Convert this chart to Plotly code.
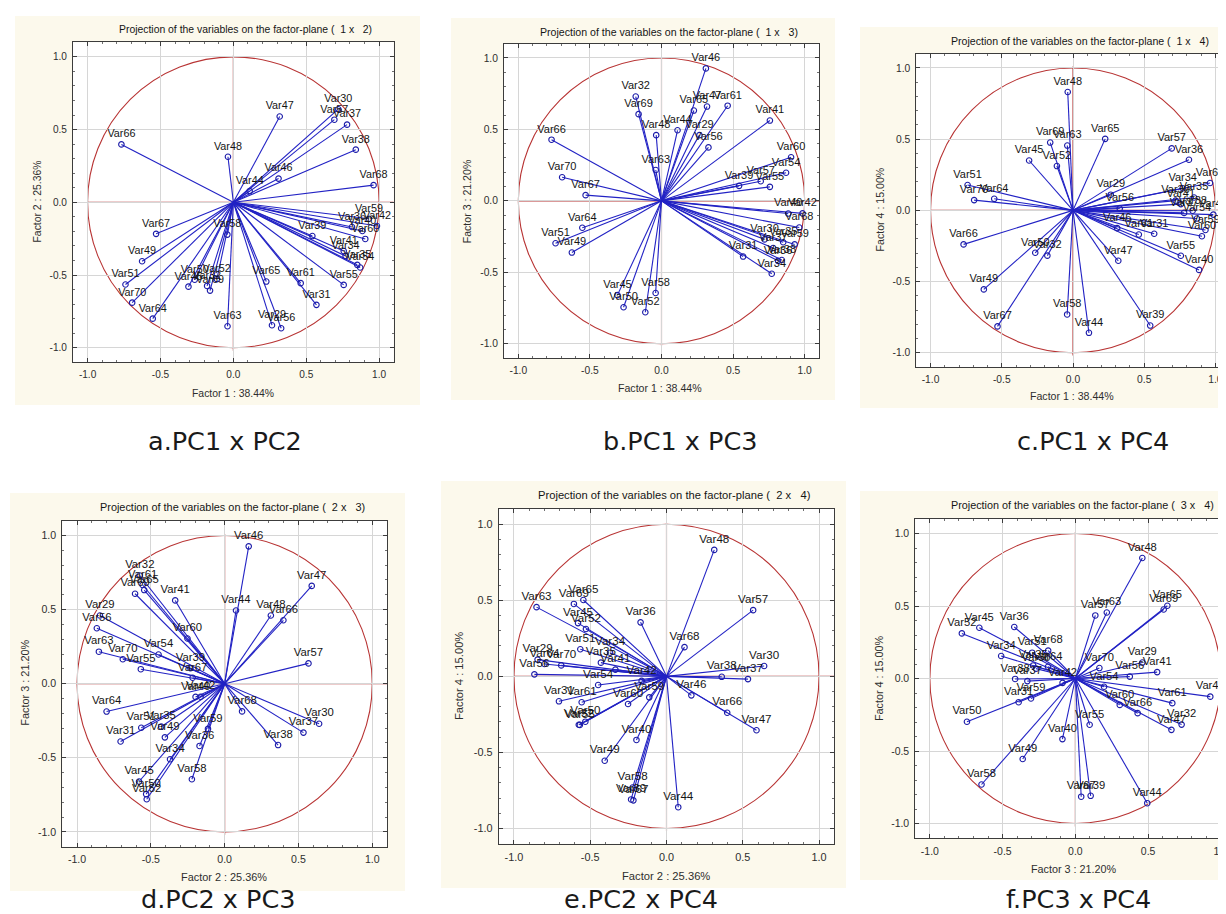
import plotly.graph_objects as go

# ---------------- data (factor loadings) ----------------
variables = ["Var29", "Var30", "Var31", "Var32", "Var34", "Var35", "Var36", "Var37",
             "Var38", "Var39", "Var40", "Var41", "Var42", "Var44", "Var45", "Var46",
             "Var47", "Var48", "Var49", "Var50", "Var51", "Var52", "Var54", "Var55",
             "Var56", "Var57", "Var58", "Var59", "Var60", "Var61", "Var63", "Var64",
             "Var65", "Var66", "Var67", "Var68", "Var69", "Var70"]

factor1 = [0.265, 0.720, 0.570, -0.180, 0.770, 0.850, 0.814, 0.780,
           0.840, 0.542, 0.885, 0.757, 0.985, 0.112, -0.308, 0.310,
           0.318, -0.037, -0.626, -0.265, -0.740, -0.113, 0.870, 0.757,
           0.328, 0.693, -0.041, 0.930, 0.905, 0.462, -0.040, -0.553,
           0.226, -0.768, -0.530, 0.962, -0.160, -0.694]

factor2 = [-0.845, 0.640, -0.705, -0.575, -0.370, -0.430, -0.170, 0.534,
           0.362, -0.232, -0.197, -0.335, -0.163, 0.077, -0.580, 0.163,
           0.590, 0.313, -0.405, -0.532, -0.565, -0.528, -0.448, -0.568,
           -0.866, 0.568, -0.222, -0.113, -0.252, -0.556, -0.852, -0.800,
           -0.545, 0.398, -0.217, 0.118, -0.607, -0.690]

factor3 = [0.460, -0.270, -0.390, 0.730, -0.510, -0.290, -0.420, -0.330,
           -0.414, 0.105, -0.089, 0.562, -0.088, 0.494, -0.660, 0.927,
           0.660, 0.460, -0.362, -0.745, -0.297, -0.780, 0.197, 0.098,
           0.374, 0.137, -0.645, -0.305, 0.305, 0.666, 0.216, -0.188,
           0.632, 0.428, 0.040, -0.187, 0.607, 0.165]

factor4 = [0.110, 0.068, -0.164, -0.318, 0.155, 0.090, 0.355, -0.018,
           -0.003, -0.809, -0.418, 0.044, -0.030, -0.860, 0.350, -0.125,
           -0.354, 0.831, -0.555, -0.298, 0.178, 0.311, -0.057, -0.319,
           0.013, 0.435, -0.731, -0.138, -0.182, -0.170, 0.455, 0.081,
           0.502, -0.239, -0.815, 0.192, 0.476, 0.072]

explained = [38.44, 25.36, 21.20, 15.00]          # % variance of factors 1..4
pairs = [(1, 2), (1, 3), (1, 4), (2, 3), (2, 4), (3, 4)]
captions = ["a.PC1 x PC2", "b.PC1 x PC3", "c.PC1 x PC4",
            "d.PC2 x PC3", "e.PC2 x PC4", "f.PC3 x PC4"]
tick_values = [-1.0, -0.5, 0.0, 0.5, 1.0]
tick_text = ["-1.0", "-0.5", "0.0", "0.5", "1.0"]

loadings = {1: factor1, 2: factor2, 3: factor3, 4: factor4}

# ---------------- styling / geometry (pixels) ----------------
W, H = 1226, 914
CREAM = "#FCF9EC"
BLUE_LINE = "#2222C4"
BLUE_MARK = "#1C1CA8"
RED = "#B83434"
FRAME = "#3C3C3C"
GRID = "#D6D6D6"
TXT = "#151515"
SANS = "Arial, 'Liberation Sans', sans-serif"
CAPFONT = "Verdana, 'DejaVu Sans', sans-serif"

panels = [
    dict(frame=(65, 34.3, 385.7, 354.3), bg=(7, 8, 412, 397), title=(237, 22),
         xt=(224.5, 385), yt=(28.5, 194), cap=(217, 433), fs=10.4, xmax=1.1),
    dict(frame=(496, 35.7, 811, 350), bg=(443, 10, 827, 392), title=(660.5, 24),
         xt=(652.3, 380), yt=(459.3, 193), cap=(672, 433), fs=10.6, xmax=1.1),
    dict(frame=(908.3, 45.7, 1221.7, 359), bg=(852, 19, 1226, 400), title=(1072, 32.7),
         xt=(1063.8, 388.3), yt=(871.7, 201.7), cap=(1085, 433), fs=10.6, xmax=1.1),
    dict(frame=(54.3, 512.7, 379, 838.7), bg=(2, 485, 397, 883), title=(224, 499),
         xt=(215.8, 869), yt=(16.7, 675), cap=(210, 891), fs=10.9, xmax=1.1),
    dict(frame=(490.7, 501, 826.3, 835.7), bg=(433, 473, 838, 880), title=(666, 486.7),
         xt=(657.5, 867.7), yt=(451.7, 668.3), cap=(633, 891), fs=11.2, xmax=1.1),
    dict(frame=(907.3, 511, 1226, 830), bg=(852, 483, 1226, 872), title=(1074.5, 497.3),
         xt=(1066, 860.7), yt=(871, 670), cap=(1070, 891), fs=10.8, xmax=1.09),
]


def px(x):
    return x / W


def py(y):
    return 1 - y / H


fig = go.Figure()
shapes, annotations = [], []
layout_axes = {}

for k, ((fa, fb), P) in enumerate(zip(pairs, panels), start=1):
    xa = "x" if k == 1 else f"x{k}"
    ya = "y" if k == 1 else f"y{k}"
    xs, ys = loadings[fa], loadings[fb]
    fs = P["fs"]

    # background boxes
    bx0, by0, bx1, by1 = P["bg"]
    shapes.append(dict(type="rect", xref="paper", yref="paper", layer="below",
                       x0=px(bx0), x1=px(bx1), y0=py(by1), y1=py(by0),
                       fillcolor=CREAM, line=dict(width=0)))
    fx0, fy0, fx1, fy1 = P["frame"]
    shapes.append(dict(type="rect", xref="paper", yref="paper", layer="below",
                       x0=px(fx0), x1=px(fx1), y0=py(fy1), y1=py(fy0),
                       fillcolor="white", line=dict(width=0)))
    # unit circle and axes cross
    shapes.append(dict(type="circle", xref=xa, yref=ya, layer="below",
                       x0=-1, x1=1, y0=-1, y1=1, line=dict(color=RED, width=1.1)))
    shapes.append(dict(type="line", xref=xa, yref=ya, layer="below",
                       x0=-1.0, x1=P["xmax"], y0=0, y1=0, line=dict(color=RED, width=1.1)))
    shapes.append(dict(type="line", xref=xa, yref=ya, layer="below",
                       x0=0, x1=0, y0=-1.02, y1=1.01, line=dict(color=RED, width=1.1)))

    # vectors from origin
    seg_x, seg_y = [], []
    for a, b in zip(xs, ys):
        seg_x += [0, a, None]
        seg_y += [0, b, None]
    fig.add_trace(go.Scatter(x=seg_x, y=seg_y, mode="lines", xaxis=xa, yaxis=ya,
                             line=dict(color=BLUE_LINE, width=1.1), hoverinfo="skip",
                             showlegend=False))
    fig.add_trace(go.Scatter(x=xs, y=ys, mode="markers+text", xaxis=xa, yaxis=ya,
                             text=variables, textposition="top center",
                             textfont=dict(family=SANS, size=fs + 0.4, color=TXT),
                             marker=dict(symbol="circle-open", size=5.5, color=BLUE_MARK,
                                         line=dict(width=1.1, color=BLUE_MARK)),
                             cliponaxis=False, showlegend=False))

    common = dict(tickmode="array", tickvals=tick_values, ticktext=tick_text,
                  showgrid=True, gridcolor=GRID, gridwidth=1, zeroline=False,
                  showline=True, linecolor=FRAME, linewidth=1, mirror="allticks",
                  ticks="inside", ticklen=4, tickcolor=FRAME,
                  tickfont=dict(family=SANS, size=fs * 0.97, color="#2E2E2E"),
                  minor=dict(tickmode="linear", tick0=0, dtick=0.1, ticks="inside",
                             ticklen=2, tickcolor="#707070", showgrid=False),
                  fixedrange=True)
    layout_axes["xaxis" if k == 1 else f"xaxis{k}"] = dict(
        common, domain=[px(fx0), px(fx1)], range=[-1.1, P["xmax"]], anchor=ya,
        ticklabelstandoff=3)
    layout_axes["yaxis" if k == 1 else f"yaxis{k}"] = dict(
        common, domain=[py(fy1), py(fy0)], range=[-1.1, 1.1], anchor=xa,
        ticklabelstandoff=3)

    # texts
    annotations.append(dict(xref="paper", yref="paper", x=px(P["title"][0]), y=py(P["title"][1]),
                            xanchor="center", yanchor="middle", showarrow=False,
                            text=f"Projection of the variables on the factor-plane (\u00a0 {fa} x\u00a0\u00a0 {fb})",
                            font=dict(family=SANS, size=fs, color=TXT)))
    annotations.append(dict(xref="paper", yref="paper", x=px(P["xt"][0]), y=py(P["xt"][1]),
                            xanchor="center", yanchor="middle", showarrow=False,
                            text=f"Factor {fa} : {explained[fa - 1]:.2f}%",
                            font=dict(family=SANS, size=fs, color="#2E2E2E")))
    annotations.append(dict(xref="paper", yref="paper", x=px(P["yt"][0]), y=py(P["yt"][1]),
                            xanchor="center", yanchor="middle", showarrow=False, textangle=-90,
                            text=f"Factor {fb} : {explained[fb - 1]:.2f}%",
                            font=dict(family=SANS, size=fs, color="#2E2E2E")))
    annotations.append(dict(xref="paper", yref="paper", x=px(P["cap"][0]), y=py(P["cap"][1]),
                            xanchor="center", yanchor="middle", showarrow=False,
                            text=captions[k - 1],
                            font=dict(family=CAPFONT, size=25.5, color="#1a1a1a")))

fig.update_layout(width=W, height=H, margin=dict(l=0, r=0, t=0, b=0),
                  paper_bgcolor="white", plot_bgcolor="rgba(0,0,0,0)",
                  shapes=shapes, annotations=annotations, showlegend=False,
                  **layout_axes)

fig.write_html("out.html")
